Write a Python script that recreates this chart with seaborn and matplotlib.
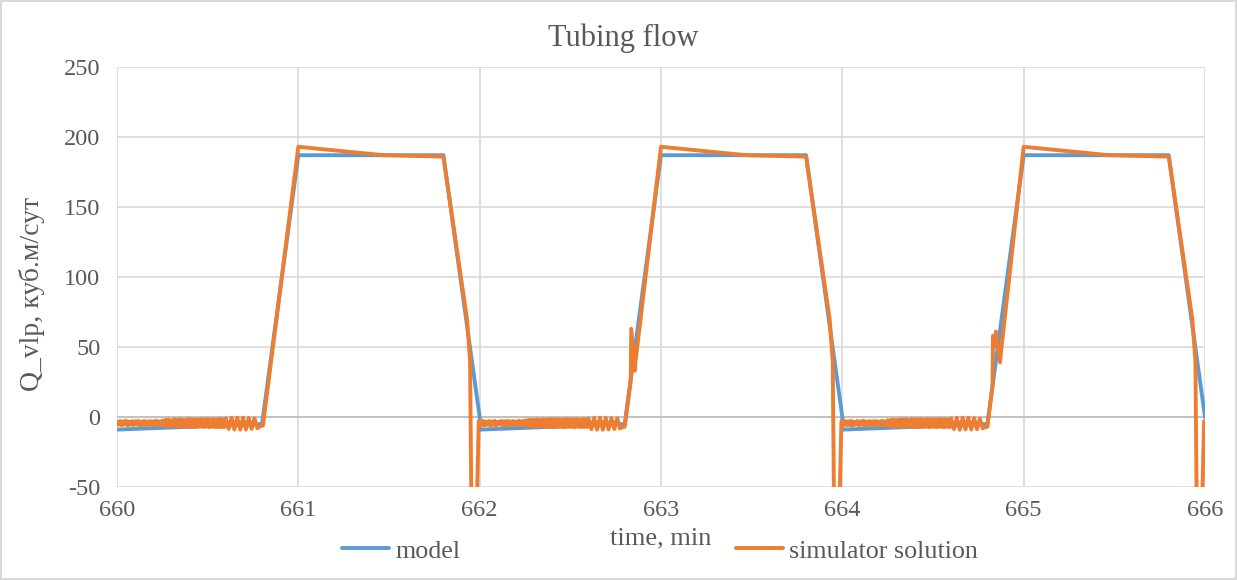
import numpy as np
import pandas as pd
import matplotlib
matplotlib.use("Agg")
import matplotlib.pyplot as plt
import seaborn as sns

# ---------------- data ----------------
title = "Tubing flow"
xlabel = "time, min"
ylabel = "Q_vlp, куб.м/сут"
series_names = ["model", "simulator solution"]

# model (blue)
model_t = [660.0, 660.8, 661.0, 661.8, 662.0, 662.0, 662.8, 663.0, 663.8, 664.0, 664.0,
           664.8, 665.0, 665.8, 666.0]
model_q = [-9.0, -5.0, 187.0, 187.0, 0.0, -9.0, -5.0, 187.0, 187.0, 0.0, -9.0,
           -5.0, 187.0, 187.0, 0.0]

# simulator: dense oscillation in the low-flow stretch of each cycle (72 samples over 0.6 min)
sim_noise_1 = [-3.5, -5.5, -2.8, -5.9, -3.1, -5.4, -2.6, -6.0, -3.3, -5.6, -2.9, -5.8,
               -3.0, -5.5, -2.7, -6.1, -3.2, -5.7, -2.8, -5.9, -3.1, -5.6, -2.9, -6.0,
               -3.0, -5.8, -2.6, -6.1, -3.2, -5.5, -2.5, -6.3, -2.0, -6.6, -1.8, -6.8,
               -2.2, -6.5, -1.6, -7.0, -1.9, -6.7, -1.5, -7.1, -2.1, -6.9, -1.7, -7.2,
               -1.4, -7.0, -1.8, -7.3, -1.6, -7.1, -1.9, -6.8, -1.5, -7.2, -1.7, -7.0,
               -1.4, -7.3, -1.8, -7.1, -1.5, -7.2, -1.6, -7.4, -1.3, -7.2, -1.7, -7.3]
sim_noise_2 = [-3.0, -5.8, -2.6, -6.1, -3.2, -5.6, -2.9, -6.2, -3.1, -5.7, -2.7, -6.0,
               -3.3, -5.4, -2.8, -6.0, -3.0, -5.9, -2.7, -6.1, -3.0, -5.7, -2.9, -5.9,
               -3.1, -5.6, -2.7, -6.2, -2.9, -5.8, -2.4, -6.4, -2.1, -6.7, -1.9, -6.6,
               -2.0, -6.9, -1.7, -7.1, -2.0, -6.8, -1.6, -7.0, -1.9, -7.2, -1.5, -7.1,
               -1.6, -7.3, -1.7, -7.2, -1.5, -7.0, -1.8, -7.2, -1.6, -7.3, -1.4, -7.1,
               -1.7, -7.2, -1.5, -7.4, -1.6, -7.1, -1.8, -7.3, -1.4, -7.2, -1.6, -7.3]
sim_noise_3 = [-3.2, -5.7, -2.9, -5.8, -3.0, -5.9, -2.7, -6.1, -3.4, -5.5, -2.8, -5.9,
               -3.1, -5.6, -2.6, -6.2, -3.1, -5.8, -2.9, -5.7, -3.0, -6.0, -2.8, -5.8,
               -3.2, -5.7, -2.7, -6.0, -3.0, -5.9, -2.3, -6.5, -2.0, -6.8, -1.8, -6.7,
               -2.1, -6.6, -1.7, -7.0, -1.8, -6.9, -1.5, -7.2, -2.0, -7.0, -1.6, -7.2,
               -1.5, -7.1, -1.7, -7.3, -1.6, -7.2, -1.8, -6.9, -1.4, -7.3, -1.6, -7.1,
               -1.5, -7.2, -1.7, -7.3, -1.4, -7.1, -1.6, -7.4, -1.5, -7.2, -1.7, -7.3]
# larger teeth just before the rise (13 samples over 660.6 .. 660.79)
sim_teeth_1 = [-1.0, -8.5, -0.5, -9.0, -0.5, -9.0, -0.5, -9.0, -0.8, -8.5, -1.0, -8.0, -6.5]
sim_teeth_2 = [-1.2, -8.7, -0.6, -9.0, -0.4, -9.1, -0.6, -8.9, -0.7, -8.6, -1.0, -8.2, -7.0]
sim_teeth_3 = [-1.1, -8.6, -0.5, -9.1, -0.5, -8.9, -0.5, -9.0, -0.8, -8.7, -1.1, -8.1, -7.0]

# rise / plateau / fall of each cycle
sim_pulse_t_1 = [660.805, 661.0, 661.47, 661.8, 661.93, 661.947, 661.955, 661.982, 661.995]
sim_pulse_q_1 = [-6.0, 193.0, 187.0, 186.0, 70.0, 40.0, -75.0, -75.0, -3.0]
sim_pulse_t_2 = [662.80, 662.833, 662.836, 662.855, 662.858, 663.0, 663.47, 663.8, 663.93,
                 663.947, 663.955, 663.982, 663.995]
sim_pulse_q_2 = [-7.0, 26.0, 63.0, 33.0, 38.0, 193.0, 187.0, 186.0, 70.0, 40.0, -75.0, -75.0, -3.0]
sim_pulse_t_3 = [664.80, 664.828, 664.831, 664.838, 664.847, 664.870, 664.874, 665.0, 665.47,
                 665.8, 665.93, 665.947, 665.955, 665.982, 665.995, 666.0]
sim_pulse_q_3 = [-7.0, 22.0, 58.0, 50.0, 61.0, 39.0, 45.0, 193.0, 187.0, 186.0, 70.0, 40.0,
                 -75.0, -75.0, -3.0, -3.0]

cycle_starts = [660.0, 662.0, 664.0]

# ---------------- assemble simulator series ----------------
sim_t, sim_q = [], []
for start, noise, teeth, pt, pq in zip(
        cycle_starts,
        [sim_noise_1, sim_noise_2, sim_noise_3],
        [sim_teeth_1, sim_teeth_2, sim_teeth_3],
        [sim_pulse_t_1, sim_pulse_t_2, sim_pulse_t_3],
        [sim_pulse_q_1, sim_pulse_q_2, sim_pulse_q_3]):
    sim_t += list(np.linspace(start, start + 0.6, len(noise), endpoint=False))
    sim_q += noise
    sim_t += list(np.linspace(start + 0.6, start + 0.79, len(teeth)))
    sim_q += teeth
    sim_t += pt
    sim_q += pq

df_model = pd.DataFrame({"t": model_t, "q": model_q})
df_sim = pd.DataFrame({"t": sim_t, "q": sim_q})

# ---------------- plot ----------------
sns.set_theme(style="white")
plt.rcParams["font.family"] = ["Liberation Serif", "DejaVu Serif"]
plt.rcParams["axes.unicode_minus"] = False
text_col = "#595959"

fig = plt.figure(figsize=(12.37, 5.8), dpi=100)
fig.patch.set_edgecolor("#D9D9D9")
fig.patch.set_linewidth(1.5)
ax = fig.add_axes([117 / 1237, 1 - 487 / 580, (1205 - 117) / 1237, (487 - 67) / 580])

blue = "#5B9BD5"
orange = "#ED7D31"
sns.lineplot(data=df_model, x="t", y="q", ax=ax, color=blue, linewidth=2.8,
             sort=False, estimator=None, label=series_names[0], legend=False)
sns.lineplot(data=df_sim, x="t", y="q", ax=ax, color=orange, linewidth=2.8,
             sort=False, estimator=None, label=series_names[1], legend=False)

ax.set_xlim(660, 666)
ax.set_ylim(-50, 250)
ax.set_xticks(np.arange(660, 667, 1))
ax.set_yticks(np.arange(-50, 251, 50))
ax.grid(True, color="#D9D9D9", linewidth=1.2)
ax.set_axisbelow(True)
for s in ax.spines.values():
    s.set_visible(False)
ax.axhline(0, color="#BFBFBF", linewidth=1.3, zorder=1.5)
ax.tick_params(axis="y", length=0, labelsize=17.5, labelcolor=text_col, pad=12)
ax.tick_params(axis="x", length=0, labelsize=17.5, labelcolor=text_col, pad=9)

fig.text(623 / 1237, 1 - 38 / 580, title, fontsize=22, color=text_col,
         ha="center", va="center")
ax.set_xlabel(xlabel, fontsize=19, color=text_col, labelpad=5)
ax.set_ylabel(ylabel, fontsize=20, color=text_col)
ax.yaxis.set_label_coords(-0.066, 0.46)

handles, labels = ax.get_legend_handles_labels()
fig.legend(handles, labels, loc="center", bbox_to_anchor=(660 / 1237, 1 - 551 / 580),
           ncol=2, frameon=False, fontsize=18.7, labelcolor=text_col,
           handlelength=1.8, handletextpad=0.25, columnspacing=10.6)

fig.savefig("out.png", dpi=100, edgecolor=fig.get_edgecolor())
